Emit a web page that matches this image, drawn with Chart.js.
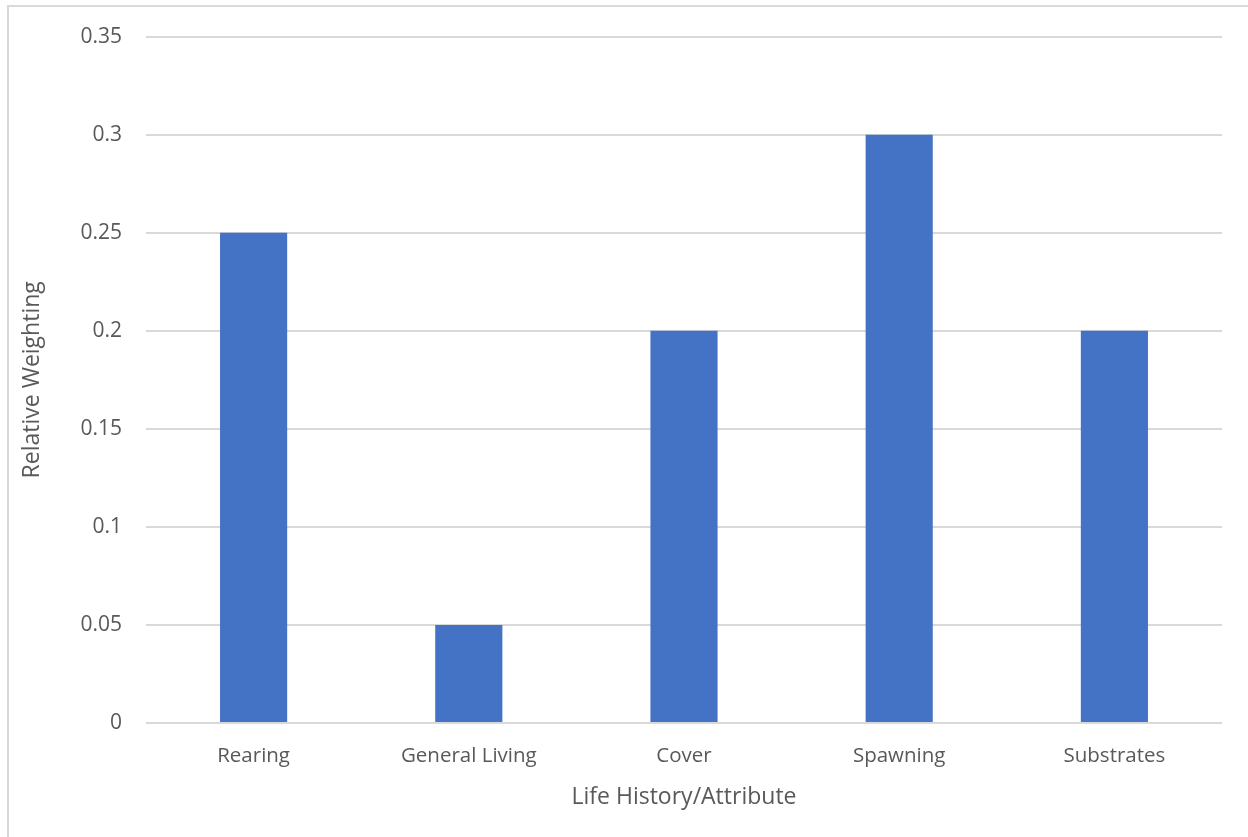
<!DOCTYPE html>
<html>
<head>
<meta charset="utf-8">
<script src="https://cdn.jsdelivr.net/npm/chart.js@4"></script>
<style>
  html, body { margin: 0; padding: 0; background: #fff; }
  #wrap { position: relative; width: 1248px; height: 837px; overflow: hidden; }
  #frame { position: absolute; left: 7px; top: 5px; width: 1260px; height: 850px;
           border: 2px solid #d9d9d9; box-sizing: border-box; }
  canvas { position: absolute; left: 0; top: 0; }
</style>
</head>
<body>
<div id="wrap">
  <div id="frame"></div>
  <canvas id="chart" width="1248" height="837"></canvas>
</div>
<script>
const categories = ['Rearing', 'General Living', 'Cover', 'Spawning', 'Substrates'];
const weights = [0.25, 0.05, 0.2, 0.3, 0.2];
const tickValues = [0, 0.05, 0.1, 0.15, 0.2, 0.25, 0.3, 0.35];

const textColor = '#595959';
const gridColor = '#d9d9d9';
const fontFamily = "'Open Sans', 'Segoe UI', sans-serif";

const ctx = document.getElementById('chart').getContext('2d');
new Chart(ctx, {
    type: 'bar',
    data: {
        labels: categories,
        datasets: [{
            label: 'Relative Weighting',
            data: weights,
            backgroundColor: '#4472c4',
            borderWidth: 0,
            categoryPercentage: 1,
            barPercentage: 0.312
        }]
    },
    options: {
        responsive: false,
        animation: false,
        layout: { padding: { left: 19, right: 26, top: 30, bottom: 26 } },
        plugins: {
            legend: { display: false },
            tooltip: { enabled: false }
        },
        scales: {
            x: {
                grid: { display: false, drawTicks: false },
                border: { display: false },
                ticks: {
                    color: textColor,
                    padding: 21,
                    maxRotation: 0,
                    font: { family: fontFamily, size: 20.5 }
                },
                title: {
                    display: true,
                    text: 'Life History/Attribute',
                    color: textColor,
                    font: { family: fontFamily, size: 23 },
                    padding: { top: 0, bottom: 0 }
                },
                afterFit: function(axis) { axis.height = 88; }
            },
            y: {
                min: 0,
                max: 0.35,
                afterBuildTicks: function(axis) {
                    axis.ticks = tickValues.map(v => ({ value: v }));
                },
                grid: { color: gridColor, lineWidth: 2, drawTicks: false },
                border: { display: false },
                ticks: {
                    color: textColor,
                    padding: 24,
                    font: { family: fontFamily, size: 21 },
                    callback: function(value) { return String(+value.toFixed(2)); }
                },
                title: {
                    display: true,
                    text: 'Relative Weighting',
                    color: textColor,
                    font: { family: fontFamily, size: 23 },
                    padding: { top: 0, bottom: 0 }
                },
                afterFit: function(axis) { axis.width = 127; }
            }
        }
    }
});
</script>
</body>
</html>
